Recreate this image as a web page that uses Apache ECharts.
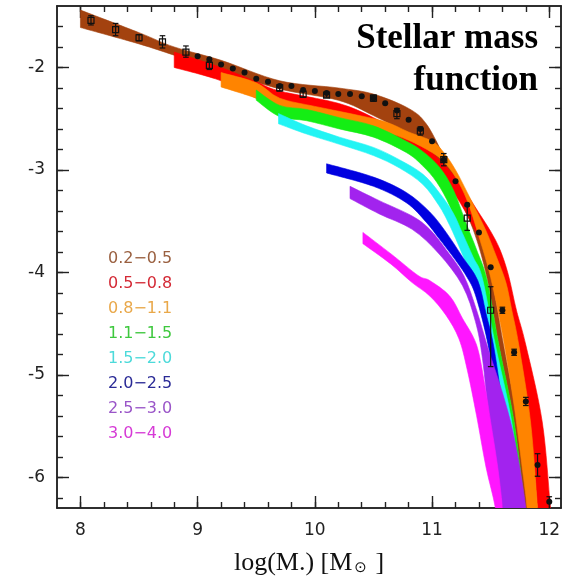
<!DOCTYPE html>
<html><head><meta charset="utf-8">
<script src="https://cdn.jsdelivr.net/npm/echarts@6/dist/echarts.min.js"></script>
<style>html,body{margin:0;padding:0;background:#fff}#c{width:577px;height:581px}</style>
</head><body><div id="c"></div>
<script>
// ---------- categories / legend ----------
const bandNames = ['0.2\u22120.5','0.5\u22120.8','0.8\u22121.1','1.1\u22121.5','1.5\u22122.0','2.0\u22122.5','2.5\u22123.0','3.0\u22124.0'];
const bandColors = ['#a3420f','#ff0000','#ff8400','#14ee14','#22f4f4','#0000e0','#a223ee','#ff16ff'];
const labelColors = ['#9a6040','#d42a36','#e9a84a','#3ec83e','#4ddada','#2a2a96','#9a55c8','#d63ad6'];

// ---------- band edges [logM, logPhi] ----------
const upper_02_05 = [[8.0,-1.44],[8.5,-1.66],[8.8,-1.80],[9.2,-1.93],[9.7,-2.13],[10.2,-2.20],[10.5,-2.26],[10.8,-2.40],[10.95,-2.55],[11.1,-2.86],[11.3,-3.28],[11.42,-3.62],[11.51,-4.06],[11.61,-4.71],[11.73,-5.46],[11.83,-6.3],[11.87,-6.7]];
const lower_02_05 = [[8.0,-1.61],[8.5,-1.77],[8.8,-1.88],[9.2,-2.03],[9.7,-2.21],[10.2,-2.32],[10.5,-2.47],[10.8,-2.66],[11.0,-2.87],[11.2,-3.22],[11.35,-3.58],[11.47,-4.06],[11.57,-4.71],[11.70,-5.46],[11.79,-6.3],[11.82,-6.7]];

const upper_05_08 = [[8.8,-1.85],[9.2,-2.0],[9.5,-2.14],[9.7,-2.23],[10.2,-2.35],[10.5,-2.49],[10.8,-2.68],[11.0,-2.83],[11.2,-3.07],[11.3,-3.24],[11.4,-3.42],[11.5,-3.60],[11.58,-3.78],[11.65,-4.02],[11.72,-4.37],[11.80,-4.71],[11.94,-5.46],[12.01,-6.3],[12.04,-6.7]];
const lower_05_08 = [[8.8,-2.0],[9.2,-2.13],[9.5,-2.3],[9.7,-2.4],[10.2,-2.52],[10.5,-2.62],[10.8,-2.80],[11.0,-2.96],[11.2,-3.25],[11.35,-3.55],[11.47,-3.85],[11.6,-4.35],[11.7,-4.85],[11.84,-5.6],[11.90,-6.3],[11.93,-6.7]];

const upper_08_11 = [[9.2,-2.05],[9.5,-2.15],[9.7,-2.30],[10.0,-2.38],[10.3,-2.45],[10.6,-2.53],[10.8,-2.63],[11.0,-2.72],[11.1,-2.83],[11.2,-3.00],[11.3,-3.22],[11.4,-3.45],[11.47,-3.62],[11.55,-3.85],[11.63,-4.10],[11.68,-4.37],[11.74,-4.71],[11.84,-5.46],[11.90,-6.3],[11.93,-6.7]];
const lower_08_11 = [[9.2,-2.19],[9.5,-2.30],[9.7,-2.40],[10.0,-2.48],[10.3,-2.55],[10.6,-2.63],[10.8,-2.71],[11.0,-2.83],[11.1,-2.92],[11.2,-3.07],[11.3,-3.30],[11.4,-3.65],[11.5,-4.05],[11.6,-4.6],[11.7,-5.3],[11.78,-6.0],[11.81,-6.3],[11.83,-6.7]];

const upper_11_15 = [[9.5,-2.22],[9.7,-2.37],[9.93,-2.41],[10.21,-2.49],[10.5,-2.57],[10.78,-2.72],[10.92,-2.82],[11.06,-2.97],[11.18,-3.19],[11.29,-3.52],[11.38,-3.78],[11.47,-4.08],[11.57,-4.71],[11.70,-5.46],[11.79,-6.3],[11.82,-6.7]];
const lower_11_15 = [[9.5,-2.32],[9.7,-2.48],[9.93,-2.52],[10.21,-2.60],[10.5,-2.68],[10.78,-2.83],[10.92,-2.96],[11.04,-3.12],[11.15,-3.35],[11.24,-3.64],[11.32,-3.95],[11.43,-4.4],[11.53,-5.0],[11.63,-5.8],[11.7,-6.7]];

const upper_15_20 = [[9.69,-2.45],[9.93,-2.57],[10.21,-2.68],[10.50,-2.78],[10.72,-2.90],[10.92,-3.04],[11.06,-3.22],[11.18,-3.42],[11.26,-3.62],[11.35,-3.85],[11.43,-4.06],[11.54,-4.71],[11.68,-5.46],[11.77,-6.3],[11.80,-6.7]];
const lower_15_20 = [[9.69,-2.55],[9.93,-2.65],[10.21,-2.75],[10.50,-2.86],[10.72,-2.98],[10.92,-3.14],[11.06,-3.35],[11.15,-3.54],[11.25,-3.8],[11.32,-4.0],[11.39,-4.22],[11.48,-4.71],[11.6,-5.46],[11.72,-6.7]];

const upper_20_25 = [[10.10,-2.94],[10.50,-3.07],[10.78,-3.22],[10.98,-3.41],[11.12,-3.61],[11.26,-3.85],[11.39,-4.08],[11.46,-4.40],[11.53,-4.75],[11.62,-5.46],[11.72,-6.3],[11.75,-6.7]];
const lower_20_25 = [[10.10,-3.03],[10.50,-3.16],[10.78,-3.32],[10.95,-3.51],[11.06,-3.67],[11.2,-3.88],[11.3,-4.05],[11.37,-4.22],[11.46,-4.61],[11.52,-5.0],[11.6,-5.8],[11.66,-6.7]];

const upper_25_30 = [[10.30,-3.16],[10.55,-3.30],[10.83,-3.45],[10.98,-3.58],[11.12,-3.78],[11.27,-4.03],[11.38,-4.37],[11.48,-4.75],[11.58,-5.1],[11.67,-5.46],[11.74,-5.85],[11.80,-6.3],[11.83,-6.7]];
const lower_25_30 = [[10.30,-3.28],[10.55,-3.43],[10.83,-3.58],[11.06,-3.82],[11.26,-4.13],[11.37,-4.48],[11.43,-4.84],[11.49,-5.46],[11.56,-6.0],[11.6,-6.3],[11.63,-6.7]];

const upper_30_40 = [[10.41,-3.61],[10.65,-3.82],[10.88,-4.03],[10.98,-4.08],[11.15,-4.23],[11.26,-4.45],[11.38,-4.71],[11.45,-5.1],[11.50,-5.46],[11.56,-5.9],[11.60,-6.3],[11.62,-6.7]];
const lower_30_40 = [[10.41,-3.72],[10.65,-3.92],[10.83,-4.10],[10.98,-4.23],[11.12,-4.42],[11.23,-4.65],[11.30,-4.95],[11.38,-5.40],[11.46,-5.9],[11.54,-6.3],[11.58,-6.7]];

// ---------- data points ----------
const filledX = [9.0,9.1,9.2,9.3,9.4,9.5,9.6,9.7,9.8,9.9,10.0,10.1,10.2,10.3,10.4,10.5,10.6,10.7,10.8,10.9,11.0,11.1,11.2,11.3,11.4,11.5,11.6,11.7,11.8,11.9,12.0];
const filledY = [-1.89,-1.92,-1.97,-2.01,-2.05,-2.11,-2.14,-2.18,-2.18,-2.22,-2.23,-2.25,-2.26,-2.26,-2.28,-2.30,-2.35,-2.42,-2.51,-2.60,-2.72,-2.90,-3.11,-3.34,-3.61,-3.95,-4.37,-4.78,-5.26,-5.88,-6.24];
const openX = [8.09,8.30,8.50,8.70,8.90,9.10,9.70,9.90,10.10,10.50,10.70,10.90,11.10,11.30,11.50];
const openY = [-1.54,-1.63,-1.71,-1.75,-1.85,-1.98,-2.20,-2.26,-2.27,-2.30,-2.45,-2.62,-2.90,-3.47,-4.37];
// error bars: x, low, high
const errX  = [8.09,8.30,8.50,8.70,8.90,9.10,9.70,9.90,10.10,10.50,10.70,10.90,11.10,11.30,11.50,11.60,11.70,11.80,11.90,12.00];
const errLo = [-1.585,-1.69,-1.74,-1.81,-1.90,-2.02,-2.23,-2.29,-2.29,-2.33,-2.50,-2.66,-2.96,-3.59,-4.92,-4.40,-4.81,-5.30,-5.99,-6.40];
const errHi = [-1.495,-1.57,-1.68,-1.69,-1.79,-1.94,-2.17,-2.23,-2.25,-2.27,-2.40,-2.58,-2.84,-3.35,-4.14,-4.34,-4.75,-5.22,-5.77,-6.19];

// ---------- axis ticks ----------
const xMajor = [8,9,10,11,12];
const xMinor = [8.0,8.2,8.4,8.6,8.8,9.0,9.2,9.4,9.6,9.8,10.0,10.2,10.4,10.6,10.8,11.0,11.2,11.4,11.6,11.8,12.0];
const yMajor = [-6,-5,-4,-3,-2];
const yMinor = [-6.2,-6.0,-5.8,-5.6,-5.4,-5.2,-5.0,-4.8,-4.6,-4.4,-4.2,-4.0,-3.8,-3.6,-3.4,-3.2,-3.0,-2.8,-2.6,-2.4,-2.2,-2.0,-1.8,-1.6];

const bands = [
  [upper_02_05, lower_02_05],[upper_05_08, lower_05_08],[upper_08_11, lower_08_11],[upper_11_15, lower_11_15],
  [upper_15_20, lower_15_20],[upper_20_25, lower_20_25],[upper_25_30, lower_25_30],[upper_30_40, lower_30_40]
];

const X_MIN = 7.8, X_MAX = 12.1, Y_MIN = -6.3, Y_MAX = -1.4;
const axisColor = '#222';
const tickFont = {fontFamily:'DejaVu Sans', fontSize:17, color:'#222'};

function xAxisDef(pos, major) {
  return {
    type:'value', min:X_MIN, max:X_MAX, position:pos,
    axisLine:{show:true, onZero:false, lineStyle:{color:axisColor, width:1.5}},
    axisTick:{show:true, inside:true, length: major?12:6, customValues: major?xMajor:xMinor, lineStyle:{color:axisColor, width:1.4}},
    axisLabel:(major && pos==='bottom') ? Object.assign({show:true, margin:14, customValues:xMajor}, tickFont) : {show:false},
    splitLine:{show:false}
  };
}
function yAxisDef(pos, major) {
  return {
    type:'value', min:Y_MIN, max:Y_MAX, position:pos,
    axisLine:{show:true, onZero:false, lineStyle:{color:axisColor, width:1.5}},
    axisTick:{show:true, inside:true, length: major?12:6, customValues: major?yMajor:yMinor, lineStyle:{color:axisColor, width:1.4}},
    axisLabel:(major && pos==='left') ? Object.assign({show:true, margin:12, customValues:yMajor}, tickFont) : {show:false},
    splitLine:{show:false}
  };
}

const xAxes = [xAxisDef('bottom',true), xAxisDef('top',true), xAxisDef('bottom',false), xAxisDef('top',false)];
xAxes[0].name = '{a|log(M.) [M}{s|\u2299}{a| ]}';
xAxes[0].nameLocation = 'middle';
xAxes[0].nameGap = 42;
xAxes[0].nameTextStyle = {rich:{a:{fontFamily:'Liberation Serif', fontSize:26, color:'#111'}, s:{fontFamily:'DejaVu Sans', fontSize:15, color:'#111', padding:[11,2,0,2]}}};
const yAxes = [yAxisDef('left',true), yAxisDef('right',true), yAxisDef('left',false), yAxisDef('right',false)];

// smooth path through pixel points (Catmull-Rom as cubic Bezier)
function smoothSeg(pts, moveFirst) {
  let d = moveFirst ? ('M' + pts[0][0] + ',' + pts[0][1]) : ('L' + pts[0][0] + ',' + pts[0][1]);
  for (let i = 0; i < pts.length - 1; i++) {
    const p0 = pts[Math.max(i - 1, 0)], p1 = pts[i], p2 = pts[i + 1], p3 = pts[Math.min(i + 2, pts.length - 1)];
    const c1x = p1[0] + (p2[0] - p0[0]) / 6, c1y = p1[1] + (p2[1] - p0[1]) / 6;
    const c2x = p2[0] - (p3[0] - p1[0]) / 6, c2y = p2[1] - (p3[1] - p1[1]) / 6;
    d += 'C' + c1x + ',' + c1y + ',' + c2x + ',' + c2y + ',' + p2[0] + ',' + p2[1];
  }
  return d;
}

const series = [];
bands.forEach((b, i) => {
  const up = b[0], lo = b[1];
  series.push({
    type:'custom', name: bandNames[i], xAxisIndex:0, yAxisIndex:0, clip:true, z: 2+i,
    itemStyle:{color: bandColors[i]},
    data:[[up[0][0], up[0][1]]],
    encode:{x:0, y:1},
    renderItem:function(params, api){
      const pu = up.map(p => api.coord(p));
      const pl = lo.slice().reverse().map(p => api.coord(p));
      const d = smoothSeg(pu, true) + smoothSeg(pl, false) + 'Z';
      return {type:'path', shape:{pathData:d},
              style:{fill: bandColors[i], stroke: bandColors[i], lineWidth:0.6}};
    }
  });
});
series.push({
  type:'custom', name:'err', xAxisIndex:0, yAxisIndex:0, clip:true, z:20,
  data: errX.map((x,i)=>[x, errLo[i], errHi[i]]),
  encode:{x:0, y:[1,2]},
  renderItem:function(params, api){
    const x = api.value(0);
    const a = api.coord([x, api.value(1)]), b = api.coord([x, api.value(2)]);
    const w = 2.8, st = {stroke:'#111', lineWidth:1.2};
    return {type:'group', children:[
      {type:'line', shape:{x1:a[0],y1:a[1],x2:b[0],y2:b[1]}, style:st},
      {type:'line', shape:{x1:a[0]-w,y1:a[1],x2:a[0]+w,y2:a[1]}, style:st},
      {type:'line', shape:{x1:b[0]-w,y1:b[1],x2:b[0]+w,y2:b[1]}, style:st}
    ]};
  }
});
series.push({
  type:'scatter', name:'filled', xAxisIndex:0, yAxisIndex:0, z:22, symbol:'circle', symbolSize:6,
  itemStyle:{color:'#111', opacity:1}, data: filledX.map((x,i)=>[x, filledY[i]])
});
series.push({
  type:'scatter', name:'open', xAxisIndex:0, yAxisIndex:0, z:22, symbol:'rect', symbolSize:6,
  itemStyle:{color:'rgba(0,0,0,0)', borderColor:'#111', borderWidth:1.2, opacity:1}, data: openX.map((x,i)=>[x, openY[i]])
});

const chart = echarts.init(document.getElementById('c'), null, {renderer:'canvas'});
chart.setOption({
  animation:false,
  backgroundColor:'#fff',
  grid:{left:57, top:6, right:16, bottom:70, containLabel:false},
  xAxis:xAxes, yAxis:yAxes,
  legend:{
    orient:'vertical', left:103, top:251, padding:0, itemGap:9, itemWidth:0, itemHeight:16,
    selectedMode:false, icon:'rect', itemStyle:{opacity:0},
    textStyle:{fontFamily:'DejaVu Sans', fontSize:16, lineHeight:16},
    data: bandNames.map((n,i)=>({name:n, textStyle:{color:labelColors[i]}}))
  },
  graphic:[
    {type:'text', x:538, y:39, z:100, style:{text:'Stellar mass', font:'bold 35px "Liberation Serif"', fill:'#000', textAlign:'right', textVerticalAlign:'middle'}},
    {type:'text', x:538, y:81, z:100, style:{text:'function', font:'bold 35px "Liberation Serif"', fill:'#000', textAlign:'right', textVerticalAlign:'middle'}}
  ],
  series:series
});
</script></body></html>
